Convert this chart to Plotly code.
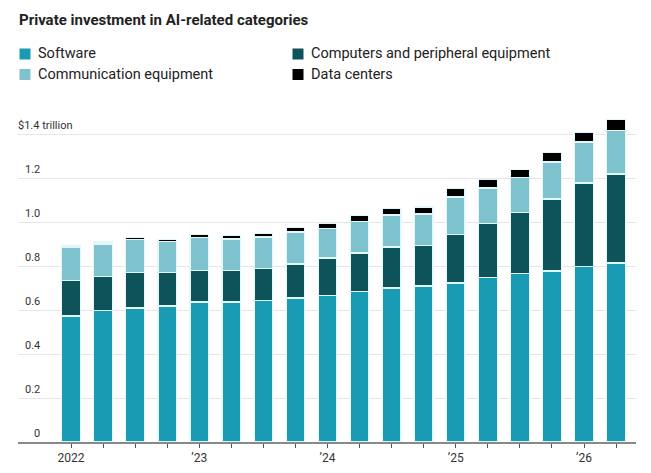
import plotly.graph_objects as go

quarters = ["2022 Q1", "2022 Q2", "2022 Q3", "2022 Q4",
            "2023 Q1", "2023 Q2", "2023 Q3", "2023 Q4",
            "2024 Q1", "2024 Q2", "2024 Q3", "2024 Q4",
            "2025 Q1", "2025 Q2", "2025 Q3", "2025 Q4",
            "2026 Q1", "2026 Q2"]
tick_labels = ["2022", "", "", "", "\u201923", "", "", "", "\u201924", "", "", "",
               "\u201925", "", "", "", "\u201926", ""]

software = [0.573, 0.597, 0.609, 0.618, 0.636, 0.636, 0.645, 0.655, 0.667,
            0.685, 0.700, 0.709, 0.723, 0.746, 0.765, 0.777, 0.796, 0.814]
computers = [0.162, 0.155, 0.162, 0.153, 0.144, 0.144, 0.145, 0.154, 0.169,
             0.174, 0.186, 0.186, 0.222, 0.248, 0.280, 0.328, 0.381, 0.404]
communication = [0.151, 0.148, 0.149, 0.140, 0.149, 0.143, 0.142, 0.146, 0.136,
                 0.143, 0.146, 0.141, 0.169, 0.161, 0.157, 0.168, 0.187, 0.199]
data_centers = [0.008, 0.009, 0.009, 0.010, 0.015, 0.017, 0.015, 0.020, 0.021,
                0.027, 0.029, 0.032, 0.038, 0.038, 0.036, 0.042, 0.042, 0.048]

y_ticks = [0, 0.2, 0.4, 0.6, 0.8, 1.0, 1.2, 1.4]
y_tick_labels = ["0", "0.2", "0.4", "0.6", "0.8", "1.0", "1.2", "$1.4 trillion"]

series = [
    ("Software", software, "#1a9bb4"),
    ("Computers and peripheral equipment", computers, "#0e525a"),
    ("Communication equipment", communication, "#7ec2ce"),
    ("Data centers", data_centers, "#000000"),
]

FONT = "Roboto, Liberation Sans, sans-serif"
W, H = 651, 473
L, R, T, B = 18, 15, 112, 31
PW, PH = W - L - R, H - T - B

x_idx = list(range(len(quarters)))

fig = go.Figure()
for name, vals, color in series:
    fig.add_trace(go.Bar(
        x=x_idx, y=vals, name=name, width=0.58,
        marker=dict(color=color, line=dict(color="#e3f6f9", width=1.2)),
        hovertext=quarters, showlegend=False,
    ))


def px_x(p):
    return (p - L) / PW


def px_y(p):
    return (H - B - p) / PH


# legend (manual, two columns)
legend_pos = [(19.5, 54), (292.5, 54), (19.5, 74.5), (292.5, 74.5)]
shapes = []
annotations = []
for (lx, ly), (name, _, color) in zip(legend_pos, series):
    shapes.append(dict(type="rect", xref="paper", yref="paper",
                       x0=px_x(lx), x1=px_x(lx + 11), y0=px_y(ly + 5.5), y1=px_y(ly - 5.5),
                       fillcolor=color, line=dict(width=0)))
    annotations.append(dict(xref="paper", yref="paper", x=px_x(lx + 16.5), y=px_y(ly),
                            text=name, showarrow=False, xanchor="left", yanchor="middle",
                            font=dict(family=FONT, size=14.5, color="#222")))

# title
annotations.append(dict(xref="paper", yref="paper", x=px_x(16.5), y=px_y(20),
                        text="<b>Private investment in AI-related categories</b>",
                        showarrow=False, xanchor="left", yanchor="middle",
                        font=dict(family=FONT, size=15, color="#222")))

# y tick labels sitting above gridlines
for v, lab in zip(y_ticks, y_tick_labels):
    if lab.startswith("$"):
        annotations.append(dict(xref="paper", yref="y", x=px_x(15.5), y=v, yshift=0,
                                text=lab, showarrow=False, xanchor="left", yanchor="bottom",
                                font=dict(family=FONT, size=11, color="#333")))
    else:
        annotations.append(dict(xref="paper", yref="y", x=px_x(41.5), y=v, yshift=0,
                                text=lab, showarrow=False, xanchor="right", yanchor="bottom",
                                font=dict(family=FONT, size=11, color="#333")))

fig.update_layout(
    width=W, height=H,
    margin=dict(l=L, r=R, t=T, b=B),
    barmode="stack",
    plot_bgcolor="white", paper_bgcolor="white",
    shapes=shapes, annotations=annotations,
    xaxis=dict(
        range=[-1.653, 17.62], automargin=False,
        tickmode="array", tickvals=x_idx, ticktext=tick_labels,
        ticks="outside", ticklen=4, tickcolor="#555", tickwidth=1,
        showline=True, linecolor="#888", linewidth=2,
        showgrid=False, zeroline=False,
        tickfont=dict(family=FONT, size=12, color="#333"),
    ),
    yaxis=dict(
        range=[0, 1.5], automargin=False,
        tickmode="array", tickvals=y_ticks, showticklabels=False,
        showgrid=True, gridcolor="#e6e6e6", gridwidth=1,
        zeroline=False, showline=False,
    ),
)

fig.write_html("out.html", config={"displayModeBar": False},
               post_script="document.body.style.margin='0px';")
